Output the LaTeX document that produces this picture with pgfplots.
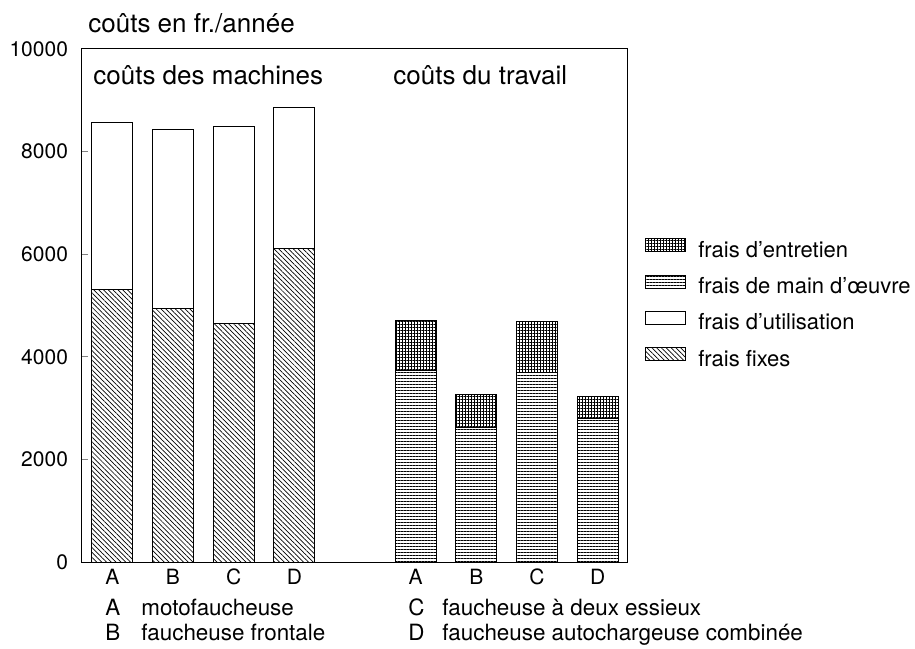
\documentclass[border=0pt]{standalone}
\usepackage{fontspec}
\setmainfont{TeX Gyre Heros}
\usepackage{pgfplots}
\pgfplotsset{compat=1.18}
\usetikzlibrary{patterns.meta}
\tikzset{
  fixpat/.style={pattern={Lines[angle=-45,distance=1.7pt,line width=0.35pt]},pattern color=black},
  labpat/.style={pattern={Lines[angle=0,distance=1.5pt,line width=0.35pt]},pattern color=black},
  entpat/.style={pattern={Hatch[angle=0,distance=1.5pt,line width=0.3pt]},pattern color=black},
}
\begin{document}
\begin{tikzpicture}
\useasboundingbox (-41pt,-43pt) rectangle (416.5pt,281pt);
\begin{axis}[
  at={(0pt,0pt)}, anchor=south west,
  scale only axis, width=273pt, height=256.5pt,
  xmin=-0.5, xmax=8.5, ymin=0, ymax=10000,
  ybar stacked, bar width=0.68,
  xtick={0,1,2,3,5,6,7,8}, xticklabels={A,B,C,D,A,B,C,D},
  x tick style={draw=none},
  ytick={0,2000,4000,6000,8000,10000},
  yticklabels={0,2000,4000,6000,8000,10000},
  scaled y ticks=false,
  ytick pos=left, tick align=inside, major tick length=3pt,
  y tick style={line width=0.5pt},
  axis line style={line width=0.5pt},
  tick label style={font=\fontsize{10.5}{12}\selectfont},
  yticklabel style={xshift=-3.5pt},
  clip=false,
  reverse legend,
  legend cell align=left,
  legend style={draw=none, fill=none, at={(1.031,0.632)}, anchor=north west,
    inner sep=0pt, row sep=6.2pt,
    font=\fontsize{11}{13}\selectfont,
    nodes={inner sep=0pt, text height=8pt, text depth=2.5pt}},
  legend image code/.code={\draw[#1] (0pt,0pt) rectangle (20pt,6.5pt); \path (26pt,0pt);},
]
\addplot[draw=black, line width=0.5pt, fixpat] coordinates {(0,5320) (1,4940) (2,4640) (3,6110) (5,0) (6,0) (7,0) (8,0)};
\addplot[draw=black, line width=0.5pt, fill=white] coordinates {(0,3240) (1,3500) (2,3840) (3,2740) (5,0) (6,0) (7,0) (8,0)};
\addplot[draw=black, line width=0.5pt, labpat] coordinates {(0,0) (1,0) (2,0) (3,0) (5,3730) (6,2630) (7,3700) (8,2790)};
\addplot[draw=black, line width=0.5pt, entpat] coordinates {(0,0) (1,0) (2,0) (3,0) (5,970) (6,640) (7,980) (8,430)};
\legend{frais fixes, frais d'utilisation, frais de main d'œuvre, frais d'entretien}
\end{axis}
\node[anchor=base west, inner sep=0pt, font=\fontsize{13}{15}\selectfont] at (3pt,264.5pt) {coûts en fr./année};
\node[anchor=base west, inner sep=0pt, font=\fontsize{13}{15}\selectfont] at (5.5pt,238.5pt) {coûts des machines};
\node[anchor=base west, inner sep=0pt, font=\fontsize{13}{15}\selectfont] at (155.5pt,238.5pt) {coûts du travail};
\begin{scope}[every node/.style={anchor=base west, inner sep=0pt, font=\fontsize{11.2}{13}\selectfont}]
\node at (11.5pt,-26.5pt) {A};
\node at (29.5pt,-26.5pt) {motofaucheuse};
\node at (11.5pt,-39pt) {B};
\node at (29.5pt,-39pt) {faucheuse frontale};
\node at (163pt,-26.5pt) {C};
\node at (180pt,-26.5pt) {faucheuse à deux essieux};
\node at (163pt,-39pt) {D};
\node at (180pt,-39pt) {faucheuse autochargeuse combinée};
\end{scope}
\end{tikzpicture}
\end{document}
